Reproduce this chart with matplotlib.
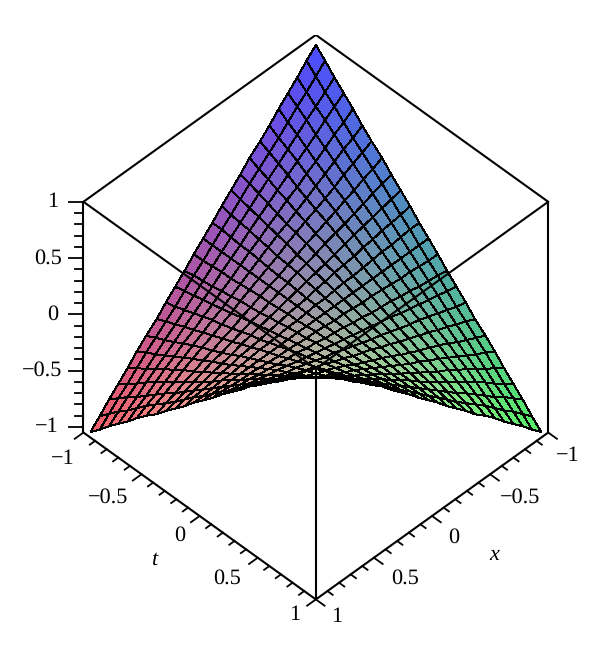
import numpy as np
import matplotlib
matplotlib.use("Agg")
import matplotlib.pyplot as plt
from mpl_toolkits.mplot3d import proj3d

OUTPUT_FILENAME = "out.png"
W, H = 600, 658

# mesh nodes, same for x and t
X_NODES = [-0.97, -0.89, -0.81, -0.73, -0.65, -0.57, -0.49, -0.40, -0.32, -0.24, -0.16, -0.08, 0,
           0.08, 0.16, 0.24, 0.32, 0.40, 0.49, 0.57, 0.65, 0.73, 0.81, 0.89, 0.97]
T_NODES = list(X_NODES)

# height, one row per x node, one column per t node
Z_VALUES = [
    [1, .92, .83, .75, .67, .58, .50, .42, .33, .25, .17, .08, 0, -.08, -.17, -.25, -.33, -.42, -.50, -.58, -.67, -.75, -.83, -.92, -1],
    [.92, .84, .76, .69, .61, .53, .46, .38, .31, .23, .15, .08, 0, -.08, -.15, -.23, -.31, -.38, -.46, -.53, -.61, -.69, -.76, -.84, -.92],
    [.83, .76, .69, .63, .56, .49, .42, .35, .28, .21, .14, .07, 0, -.07, -.14, -.21, -.28, -.35, -.42, -.49, -.56, -.63, -.69, -.76, -.83],
    [.75, .69, .63, .56, .50, .44, .38, .31, .25, .19, .13, .06, 0, -.06, -.13, -.19, -.25, -.31, -.38, -.44, -.50, -.56, -.63, -.69, -.75],
    [.67, .61, .56, .50, .44, .39, .33, .28, .22, .17, .11, .06, 0, -.06, -.11, -.17, -.22, -.28, -.33, -.39, -.44, -.50, -.56, -.61, -.67],
    [.58, .53, .49, .44, .39, .34, .29, .24, .19, .15, .10, .05, 0, -.05, -.10, -.15, -.19, -.24, -.29, -.34, -.39, -.44, -.49, -.53, -.58],
    [.50, .46, .42, .38, .33, .29, .25, .21, .17, .13, .08, .04, 0, -.04, -.08, -.13, -.17, -.21, -.25, -.29, -.33, -.38, -.42, -.46, -.50],
    [.42, .38, .35, .31, .28, .24, .21, .17, .14, .10, .07, .03, 0, -.03, -.07, -.10, -.14, -.17, -.21, -.24, -.28, -.31, -.35, -.38, -.42],
    [.33, .31, .28, .25, .22, .19, .17, .14, .11, .08, .06, .03, 0, -.03, -.06, -.08, -.11, -.14, -.17, -.19, -.22, -.25, -.28, -.31, -.33],
    [.25, .23, .21, .19, .17, .15, .13, .10, .08, .06, .04, .02, 0, -.02, -.04, -.06, -.08, -.10, -.13, -.15, -.17, -.19, -.21, -.23, -.25],
    [.17, .15, .14, .13, .11, .10, .08, .07, .06, .04, .03, .01, 0, -.01, -.03, -.04, -.06, -.07, -.08, -.10, -.11, -.13, -.14, -.15, -.17],
    [.08, .08, .07, .06, .06, .05, .04, .03, .03, .02, .01, .01, 0, -.01, -.01, -.02, -.03, -.03, -.04, -.05, -.06, -.06, -.07, -.08, -.08],
    [0] * 25,
    [-.08, -.08, -.07, -.06, -.06, -.05, -.04, -.03, -.03, -.02, -.01, -.01, 0, .01, .01, .02, .03, .03, .04, .05, .06, .06, .07, .08, .08],
    [-.17, -.15, -.14, -.13, -.11, -.10, -.08, -.07, -.06, -.04, -.03, -.01, 0, .01, .03, .04, .06, .07, .08, .10, .11, .13, .14, .15, .17],
    [-.25, -.23, -.21, -.19, -.17, -.15, -.13, -.10, -.08, -.06, -.04, -.02, 0, .02, .04, .06, .08, .10, .13, .15, .17, .19, .21, .23, .25],
    [-.33, -.31, -.28, -.25, -.22, -.19, -.17, -.14, -.11, -.08, -.06, -.03, 0, .03, .06, .08, .11, .14, .17, .19, .22, .25, .28, .31, .33],
    [-.42, -.38, -.35, -.31, -.28, -.24, -.21, -.17, -.14, -.10, -.07, -.03, 0, .03, .07, .10, .14, .17, .21, .24, .28, .31, .35, .38, .42],
    [-.50, -.46, -.42, -.38, -.33, -.29, -.25, -.21, -.17, -.13, -.08, -.04, 0, .04, .08, .13, .17, .21, .25, .29, .33, .38, .42, .46, .50],
    [-.58, -.53, -.49, -.44, -.39, -.34, -.29, -.24, -.19, -.15, -.10, -.05, 0, .05, .10, .15, .19, .24, .29, .34, .39, .44, .49, .53, .58],
    [-.67, -.61, -.56, -.50, -.44, -.39, -.33, -.28, -.22, -.17, -.11, -.06, 0, .06, .11, .17, .22, .28, .33, .39, .44, .50, .56, .61, .67],
    [-.75, -.69, -.63, -.56, -.50, -.44, -.38, -.31, -.25, -.19, -.13, -.06, 0, .06, .13, .19, .25, .31, .38, .44, .50, .56, .63, .69, .75],
    [-.83, -.76, -.69, -.63, -.56, -.49, -.42, -.35, -.28, -.21, -.14, -.07, 0, .07, .14, .21, .28, .35, .42, .49, .56, .63, .69, .76, .83],
    [-.92, -.84, -.76, -.69, -.61, -.53, -.46, -.38, -.31, -.23, -.15, -.08, 0, .08, .15, .23, .31, .38, .46, .53, .61, .69, .76, .84, .92],
    [-1, -.92, -.83, -.75, -.67, -.58, -.50, -.42, -.33, -.25, -.17, -.08, 0, .08, .17, .25, .33, .42, .50, .58, .67, .75, .83, .92, 1],
]

TICK_VALUES = [-1, -0.5, 0, 0.5, 1]
TICK_LABELS = ["\u22121", "\u22120.5", "0", "0.5", "1"]
MINOR_TICKS = [-0.9, -0.8, -0.7, -0.6, -0.4, -0.3, -0.2, -0.1, 0.1, 0.2, 0.3, 0.4, 0.6, 0.7, 0.8, 0.9]

# corner colours of the surface
RGB_BACK = np.array([75, 75, 255]) / 255     # x=-1, t=-1
RGB_LEFT = np.array([250, 92, 98]) / 255     # x=1, t=-1
RGB_RIGHT = np.array([85, 245, 95]) / 255    # x=-1, t=1
RGB_FRONT = np.array([240, 240, 200]) / 255  # x=1, t=1

ZMIN = -1.05
Z_SHIFT = -0.045  # surface sits a little low against the z ticks in the picture
FONT = ["Liberation Serif", "DejaVu Serif"]
FONTSIZE = 16


def cell_colours(x, t):
    u = ((x + 1) / 2)[..., None]
    v = ((t + 1) / 2)[..., None]
    return ((1 - u) * (1 - v) * RGB_BACK + u * (1 - v) * RGB_LEFT
            + (1 - u) * v * RGB_RIGHT + u * v * RGB_FRONT)


def draw_box(ax):
    edges = [
        ([1, -1], [-1, -1], [1, 1]),
        ([-1, -1], [-1, 1], [1, 1]),
        ([1, 1], [-1, 1], [1, 1]),
        ([-1, 1], [1, 1], [1, 1]),
        ([1, 1], [-1, -1], [ZMIN, 1]),
        ([-1, -1], [1, 1], [ZMIN, 1]),
        ([1, 1], [1, 1], [ZMIN, 1]),
        ([1, 1], [-1, 1], [ZMIN, ZMIN]),
        ([-1, 1], [1, 1], [ZMIN, ZMIN]),
    ]
    for xs, ts, zs in edges:
        ax.plot(xs, ts, zs, color="black", lw=1.5, zorder=3, solid_capstyle="round")


def draw_ticks(ax):
    for values, size in ((TICK_VALUES, 0.075), (MINOR_TICKS, 0.045)):
        for v in values:
            ax.plot([1, 1 + size], [v, v], [ZMIN, ZMIN], color="black", lw=1.3, zorder=3)
            ax.plot([v, v], [1, 1 + size], [ZMIN, ZMIN], color="black", lw=1.3, zorder=3)
            ax.plot([1, 1 + size * 0.85], [-1, -1 - size * 0.85], [v, v], color="black", lw=1.3, zorder=3)


def add_label(ax, point, text, dx, dy, **kw):
    px, py, _ = proj3d.proj_transform(*point, ax.get_proj())
    ax.annotate(text, xy=(px, py), xycoords="data", xytext=(dx, -dy), textcoords="offset pixels",
                ha=kw.pop("ha", "center"), va="center", family=FONT, fontsize=FONTSIZE,
                annotation_clip=False, **kw)


def draw_labels(ax):
    t_offsets = [(-21, 26), (-33, 23), (-20, 20), (-31, 21), (-21, 15)]
    x_offsets = [(20, 23), (30, 23), (22, 22), (31, 21), (21, 17)]
    z_right = [-25, -21, -25, -21, -25]
    for v, lab, off_t, off_x, off_z in zip(TICK_VALUES, TICK_LABELS, t_offsets, x_offsets, z_right):
        add_label(ax, (1, v, ZMIN), lab, *off_t)
        add_label(ax, (v, 1, ZMIN), lab, *off_x)
        add_label(ax, (1, -1, v), lab, off_z, 0, ha="right")
    add_label(ax, (1, 0, ZMIN), "t", -46, 44, style="italic")
    add_label(ax, (0, 1, ZMIN), "x", 62, 39, style="italic")


def main():
    plt.rcParams["text.hinting"] = "none"
    fig = plt.figure(figsize=(W / 100, H / 100), dpi=100)
    side = 580
    cx, cy = 308, 325
    ax = fig.add_axes([(cx - side / 2) / W, (H - cy - side / 2) / H, side / W, side / H],
                      projection="3d", computed_zorder=False)
    ax.set_proj_type("ortho")
    ax.view_init(elev=45.9, azim=45)
    ax.set_xlim(-1, 1, view_margin=0)
    ax.set_ylim(-1, 1, view_margin=0)
    ax.set_zlim(ZMIN, 1, view_margin=0)
    ax.set_box_aspect((1, 1, 1.009), zoom=0.9556)
    ax.set_axis_off()

    x, t = np.meshgrid(np.array(X_NODES), np.array(T_NODES), indexing="ij")
    z = np.array(Z_VALUES) + Z_SHIFT
    ax.plot_surface(x, t, z, rstride=1, cstride=1, facecolors=cell_colours(x, t), shade=False,
                    edgecolor="black", linewidth=0.7, antialiased=False, zorder=1)

    draw_box(ax)
    draw_ticks(ax)
    draw_labels(ax)
    fig.savefig(OUTPUT_FILENAME, dpi=100)


if __name__ == "__main__":
    main()
